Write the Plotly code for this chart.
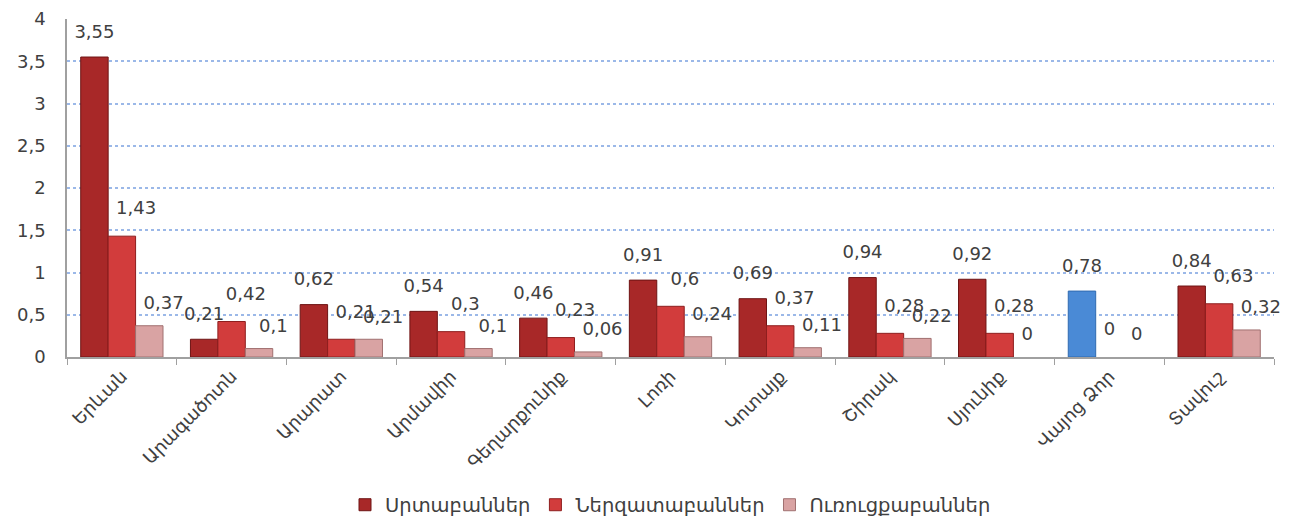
import plotly.graph_objects as go

categories = ["Երևան", "Արագածոտն", "Արարատ", "Արմավիր", "Գեղարքունիք", "Լոռի",
              "Կոտայք", "Շիրակ", "Սյունիք", "Վայոց Ձոր", "Տավուշ"]
series_names = ["Սրտաբաններ", "Ներզատաբաններ", "Ուռուցքաբաններ"]
cardio = [3.55, 0.21, 0.62, 0.54, 0.46, 0.91, 0.69, 0.94, 0.92, 0.78, 0.84]
endo = [1.43, 0.42, 0.21, 0.30, 0.23, 0.60, 0.37, 0.28, 0.28, 0, 0.63]
onco = [0.37, 0.10, 0.21, 0.10, 0.06, 0.24, 0.11, 0.22, 0, 0, 0.32]

c1 = "#A82828"
c2 = "#D23C3C"
c3 = "#D9A3A3"
blue = "#4A8AD6"
colors1 = [blue if c == "Վայոց Ձոր" else c1 for c in categories]
lines1 = ["#2F6AB0" if c == "Վայոց Ձոր" else "#6E1414" for c in categories]

NB = "\u00a0"
specs = [(series_names[0], cardio, colors1, lines1, "", 22),
         (series_names[1], endo, c2, "#8E1E1E", NB * 5, 26),
         (series_names[2], onco, c3, "#A07070", NB * 5, 18)]


def label(v, pad):
    s = f"{v:g}".replace(".", ",")
    return (pad + s) if v > 0 else s


fig = go.Figure()
for i, (name, vals, col, lc, pad, msz) in enumerate(specs):
    fig.add_trace(go.Bar(
        x=categories, y=vals, name=name, offsetgroup=str(i),
        marker=dict(color=col, line=dict(color=lc, width=[1 if v > 0 else 0 for v in vals])),
    ))
for i, (name, vals, col, lc, pad, msz) in enumerate(specs):
    fig.add_trace(go.Scatter(
        x=categories, y=vals, mode="text+markers", offsetgroup=str(i),
        marker=dict(size=msz, opacity=0), showlegend=False, hoverinfo="skip",
        text=[label(v, pad) for v in vals],
        textposition="top center", cliponaxis=False,
        textfont=dict(size=18, color="#404040", family="DejaVu Sans"),
    ))

# page body has an 8px margin; figure offsets below compensate for it
fig.update_layout(
    width=1284, height=513,
    barmode="group", bargap=0.25, bargroupgap=0,
    scattermode="group", scattergap=0.25,
    separators=", ",
    paper_bgcolor="white", plot_bgcolor="white",
    margin=dict(l=59, r=18, t=11, b=164, autoexpand=False),
    font=dict(family="DejaVu Sans", color="#404040"),
    legend=dict(orientation="h", x=0.5, xanchor="center", y=-0.438, yanchor="middle",
                font=dict(size=19.5, color="#404040"),
                traceorder="normal"),
    showlegend=True,
)
fig.update_yaxes(range=[0, 4], dtick=0.5, showgrid=True, gridcolor="#9BB8E8",
                 griddash="dot", gridwidth=2, showline=True, linecolor="#A0A0A0",
                 linewidth=1.5, tickfont=dict(size=18, color="#404040"),
                 zeroline=False, ticks="", tickformat="~g", automargin=False,
                 ticklabelstandoff=16)
fig.update_xaxes(showline=True, linecolor="#A0A0A0", linewidth=1.5,
                 ticks="outside", tickson="boundaries", ticklen=6, tickcolor="#A0A0A0",
                 tickangle=-45, tickfont=dict(size=18, color="#404040"), automargin=False)
fig.write_html("out.html")
